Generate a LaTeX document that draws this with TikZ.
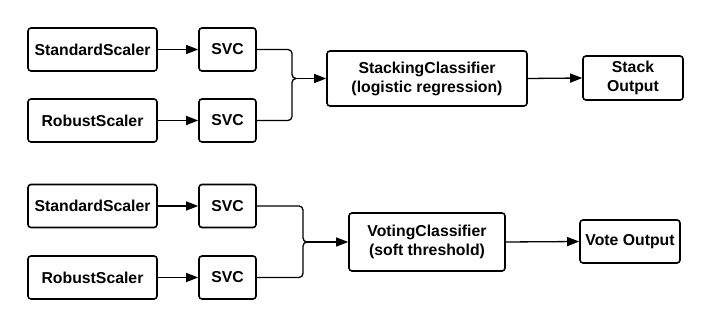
\documentclass[tikz,border=0pt]{standalone}
\usepackage{fontspec}
\setmainfont{Liberation Sans}
\usetikzlibrary{arrows.meta}
\begin{document}
\begin{tikzpicture}[x=1pt,y=-1pt,
 box/.style={draw, line width=1.6pt, rounded corners=3pt, align=center, inner sep=0pt,
   font=\bfseries\fontsize{15.8}{19}\selectfont},
 arr/.style={line width=1.3pt, -{Triangle[length=12pt,width=9pt]}},
 conn/.style={line width=1.3pt, rounded corners=4pt}]
\useasboundingbox (0,0) rectangle (712,328);
% top group
\node[box, minimum width=129pt, minimum height=43pt] (ss1) at (92.5,49.5) {StandardScaler};
\node[box, minimum width=57pt, minimum height=43pt] (svc1) at (227.5,49.5) {SVC};
\node[box, minimum width=129pt, minimum height=43pt] (rs1) at (92.5,120.5) {RobustScaler};
\node[box, minimum width=57pt, minimum height=43pt] (svc2) at (227.5,120.5) {SVC};
\node[box, minimum width=200pt, minimum height=55pt] (stack) at (427,78.5) {StackingClassifier\\(logistic regression)};
\node[box, minimum width=100pt, minimum height=44pt] (stackout) at (633,78) {Stack\\Output};
\coordinate (j1) at (292,78.5);
\draw[arr] (ss1.east) -- (svc1.west);
\draw[arr] (rs1.east) -- (svc2.west);
\draw[conn] (svc1.east) -| (j1) -- ++(4,0);
\draw[conn] (svc2.east) -| (j1) -- ++(4,0);
\draw[arr] ([xshift=3pt]j1) -- (stack.west);
\draw[arr] (stack.east) -- (stackout.west);
% bottom group
\node[box, minimum width=129pt, minimum height=43pt] (ss2) at (92.5,206) {StandardScaler};
\node[box, minimum width=57pt, minimum height=43pt] (svc3) at (227.5,206) {SVC};
\node[box, minimum width=129pt, minimum height=43pt] (rs2) at (92.5,277.5) {RobustScaler};
\node[box, minimum width=57pt, minimum height=43pt] (svc4) at (227.5,277.5) {SVC};
\node[box, minimum width=156pt, minimum height=58pt] (vote) at (427,242) {VotingClassifier\\(soft threshold)};
\node[box, minimum width=100pt, minimum height=43pt] (voteout) at (630,241.5) {Vote Output};
\coordinate (j2) at (303,242);
\draw[arr] (ss2.east) -- (svc3.west);
\draw[arr] (rs2.east) -- (svc4.west);
\draw[conn] (svc3.east) -| (j2) -- ++(4,0);
\draw[conn] (svc4.east) -| (j2) -- ++(4,0);
\draw[arr] ([xshift=3pt]j2) -- (vote.west);
\draw[arr] (vote.east) -- (voteout.west);
\end{tikzpicture}
\end{document}
